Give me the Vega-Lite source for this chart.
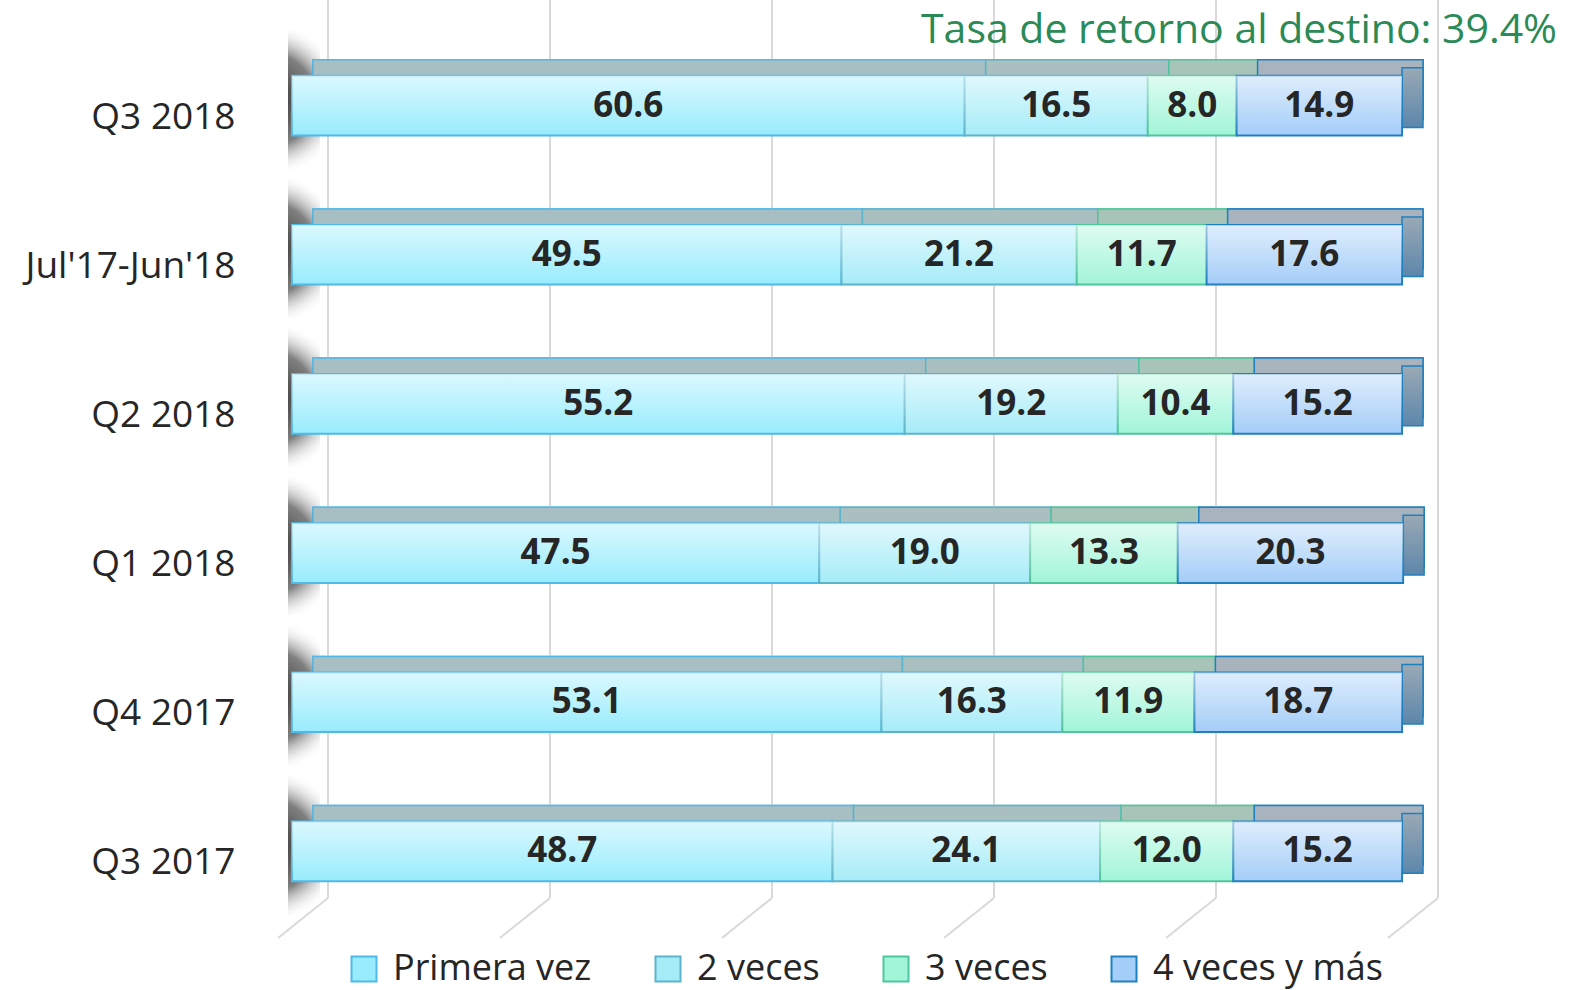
{
  "$schema": "https://vega.github.io/schema/vega-lite/v6.json",
  "width": 1110,
  "height": 895,
  "autosize": {"type": "none"},
  "padding": {"left": 292, "top": 31, "right": 177, "bottom": 64},
  "background": "white",
  "config": {"view": {"stroke": null}, "font": "Open Sans"},
  "title": {
    "text": "Tasa de retorno al destino: 39.4%",
    "anchor": "end",
    "color": "#2b8a57",
    "fontSize": 41,
    "font": "Open Sans",
    "fontWeight": "normal",
    "offset": 0,
    "dx": 118,
    "dy": 85,
    "baseline": "alphabetic"
  },
  "datasets": {
    "bars": [
      {"period": "Q3 2018", "serie": "Primera vez", "ord": 1, "value": 60.6},
      {"period": "Q3 2018", "serie": "2 veces", "ord": 2, "value": 16.5},
      {"period": "Q3 2018", "serie": "3 veces", "ord": 3, "value": 8.0},
      {"period": "Q3 2018", "serie": "4 veces y más", "ord": 4, "value": 14.9},
      {"period": "Jul'17-Jun'18", "serie": "Primera vez", "ord": 1, "value": 49.5},
      {"period": "Jul'17-Jun'18", "serie": "2 veces", "ord": 2, "value": 21.2},
      {"period": "Jul'17-Jun'18", "serie": "3 veces", "ord": 3, "value": 11.7},
      {"period": "Jul'17-Jun'18", "serie": "4 veces y más", "ord": 4, "value": 17.6},
      {"period": "Q2 2018", "serie": "Primera vez", "ord": 1, "value": 55.2},
      {"period": "Q2 2018", "serie": "2 veces", "ord": 2, "value": 19.2},
      {"period": "Q2 2018", "serie": "3 veces", "ord": 3, "value": 10.4},
      {"period": "Q2 2018", "serie": "4 veces y más", "ord": 4, "value": 15.2},
      {"period": "Q1 2018", "serie": "Primera vez", "ord": 1, "value": 47.5},
      {"period": "Q1 2018", "serie": "2 veces", "ord": 2, "value": 19.0},
      {"period": "Q1 2018", "serie": "3 veces", "ord": 3, "value": 13.3},
      {"period": "Q1 2018", "serie": "4 veces y más", "ord": 4, "value": 20.3},
      {"period": "Q4 2017", "serie": "Primera vez", "ord": 1, "value": 53.1},
      {"period": "Q4 2017", "serie": "2 veces", "ord": 2, "value": 16.3},
      {"period": "Q4 2017", "serie": "3 veces", "ord": 3, "value": 11.9},
      {"period": "Q4 2017", "serie": "4 veces y más", "ord": 4, "value": 18.7},
      {"period": "Q3 2017", "serie": "Primera vez", "ord": 1, "value": 48.7},
      {"period": "Q3 2017", "serie": "2 veces", "ord": 2, "value": 24.1},
      {"period": "Q3 2017", "serie": "3 veces", "ord": 3, "value": 12.0},
      {"period": "Q3 2017", "serie": "4 veces y más", "ord": 4, "value": 15.2}
    ],
    "grid": [{"v": 0}, {"v": 20}, {"v": 40}, {"v": 60}, {"v": 80}, {"v": 100}]
  },
  "layer": [
    {
      "data": {"name": "bars"},
      "transform": [{"stack": "value", "groupby": ["period"], "sort": [{"field": "ord"}], "as": ["x0", "x1"]}],
      "mark": {"type": "bar", "xOffset": 21, "x2Offset": 21, "yOffset": -16, "y2Offset": -16, "strokeWidth": 1.5},
      "encoding": {
        "y": {
          "field": "period", "type": "nominal",
          "sort": ["Q3 2018", "Jul'17-Jun'18", "Q2 2018", "Q1 2018", "Q4 2017", "Q3 2017"],
          "scale": {"paddingInner": 0.6, "paddingOuter": 0.3},
          "axis": {"title": null, "domain": false, "ticks": false, "grid": false, "labelFont": "Open Sans", "labelFontSize": 37, "labelColor": "#262626", "labelPadding": 57, "labelOffset": 12, "labelLimit": 400}
        },
        "x": {"field": "x0", "type": "quantitative", "scale": {"domain": [0, 100], "nice": false}, "axis": null},
        "x2": {"field": "x1"},
        "fill": {"condition": [{"test": "datum.ord == 1", "value": "#a7bfc2"}, {"test": "datum.ord == 2", "value": "#aabfc0"}, {"test": "datum.ord == 3", "value": "#a8c3b7"}], "value": "#a9b3be"},
        "stroke": {
          "field": "serie", "type": "nominal", "sort": ["Primera vez", "2 veces", "3 veces", "4 veces y más"],
          "scale": {"domain": ["Primera vez", "2 veces", "3 veces", "4 veces y más"], "range": ["#4fb9e9", "#5bb4ca", "#4fc59c", "#1f80c0"]},
          "legend": {"orient": "none", "legendX": 54, "legendY": 920, "padding": 0, "direction": "horizontal", "title": null, "labelFont": "Open Sans", "labelFontSize": 36, "labelColor": "#262626", "symbolType": "square", "symbolSize": 625, "symbolStrokeWidth": 2, "columnPadding": 58, "labelOffset": 11, "labelLimit": 400}
        }
      }
    },
    {
      "data": {"name": "bars"},
      "transform": [{"filter": "datum.ord == 1"}],
      "mark": {
        "type": "bar", "xOffset": -4, "x2Offset": 28, "height": 140, "yOffset": -6,
        "fill": {"gradient": "radial", "x1": 0.25, "y1": 0.5, "r1": 0, "x2": 0.25, "y2": 0.5, "r2": 0.55, "stops": [{"offset": 0, "color": "rgba(40,40,40,1)"}, {"offset": 0.6, "color": "rgba(85,85,85,0.75)"}, {"offset": 1, "color": "rgba(255,255,255,0)"}]}
      },
      "encoding": {
        "y": {"field": "period", "type": "nominal", "sort": ["Q3 2018", "Jul'17-Jun'18", "Q2 2018", "Q1 2018", "Q4 2017", "Q3 2017"]},
        "x": {"datum": 0, "type": "quantitative"},
        "x2": {"datum": 0}
      }
    },
    {
      "data": {"name": "grid"},
      "mark": {"type": "rule", "color": "#d9d9d9", "strokeWidth": 2, "xOffset": 36, "x2Offset": 36, "yOffset": -105.5, "y2Offset": 46.5},
      "encoding": {
        "x": {"field": "v", "type": "quantitative"},
        "x2": {"field": "v"},
        "y": {"datum": "Q3 2018", "type": "nominal"},
        "y2": {"datum": "Q3 2017"}
      }
    },
    {
      "data": {"name": "grid"},
      "mark": {"type": "rule", "color": "#d9d9d9", "strokeWidth": 2, "xOffset": 36, "x2Offset": -14, "yOffset": 46.5, "y2Offset": 86.5},
      "encoding": {
        "x": {"field": "v", "type": "quantitative"},
        "x2": {"field": "v"},
        "y": {"datum": "Q3 2017", "type": "nominal"},
        "y2": {"datum": "Q3 2017"}
      }
    },
    {
      "data": {"name": "bars"},
      "transform": [{"stack": "value", "groupby": ["period"], "sort": [{"field": "ord"}], "as": ["x0", "x1"]}],
      "mark": {"type": "bar", "xOffset": 21, "x2Offset": 21, "yOffset": -16, "y2Offset": -16, "strokeWidth": 1.5},
      "encoding": {
        "y": {"field": "period", "type": "nominal", "sort": ["Q3 2018", "Jul'17-Jun'18", "Q2 2018", "Q1 2018", "Q4 2017", "Q3 2017"]},
        "x": {"field": "x0", "type": "quantitative"},
        "x2": {"field": "x1"},
        "fill": {"condition": [{"test": "datum.ord == 1", "value": "#a7bfc2"}, {"test": "datum.ord == 2", "value": "#aabfc0"}, {"test": "datum.ord == 3", "value": "#a8c3b7"}], "value": "#a9b3be"},
        "stroke": {"field": "serie", "type": "nominal", "sort": ["Primera vez", "2 veces", "3 veces", "4 veces y más"]}
      }
    },
    {
      "data": {"name": "bars"},
      "transform": [
        {"stack": "value", "groupby": ["period"], "sort": [{"field": "ord"}], "as": ["x0", "x1"]},
        {"filter": "datum.ord == 4"}
      ],
      "mark": {
        "type": "bar", "x2Offset": 21, "yOffset": -8, "y2Offset": -8, "stroke": "#1f80c0", "strokeWidth": 1.5,
        "fill": {"gradient": "linear", "x1": 0, "y1": 0, "x2": 0, "y2": 1, "stops": [{"offset": 0, "color": "#9aa9b5"}, {"offset": 1, "color": "#5c86ab"}]}
      },
      "encoding": {
        "y": {"field": "period", "type": "nominal", "sort": ["Q3 2018", "Jul'17-Jun'18", "Q2 2018", "Q1 2018", "Q4 2017", "Q3 2017"]},
        "x": {"field": "x1", "type": "quantitative"},
        "x2": {"field": "x1"}
      }
    },
    {
      "data": {"name": "bars"},
      "transform": [{"stack": "value", "groupby": ["period"], "sort": [{"field": "ord"}], "as": ["x0", "x1"]}],
      "mark": {"type": "bar", "strokeWidth": 2},
      "encoding": {
        "y": {"field": "period", "type": "nominal", "sort": ["Q3 2018", "Jul'17-Jun'18", "Q2 2018", "Q1 2018", "Q4 2017", "Q3 2017"]},
        "x": {"field": "x0", "type": "quantitative"},
        "x2": {"field": "x1"},
        "fill": {
          "field": "serie", "type": "nominal", "sort": ["Primera vez", "2 veces", "3 veces", "4 veces y más"],
          "scale": {"domain": ["Primera vez", "2 veces", "3 veces", "4 veces y más"], "range": ["#98ecfd", "#a6ecf8", "#a2f5d9", "#a4cdf8"]},
          "legend": {"orient": "none", "legendX": 54, "legendY": 920, "padding": 0, "direction": "horizontal", "title": null, "labelFont": "Open Sans", "labelFontSize": 36, "labelColor": "#262626", "symbolType": "square", "symbolSize": 625, "symbolStrokeWidth": 2, "columnPadding": 58, "labelOffset": 11, "labelLimit": 400}
        },
        "stroke": {"field": "serie", "type": "nominal", "sort": ["Primera vez", "2 veces", "3 veces", "4 veces y más"]}
      }
    },
    {
      "data": {"name": "bars"},
      "transform": [{"stack": "value", "groupby": ["period"], "sort": [{"field": "ord"}], "as": ["x0", "x1"]}],
      "mark": {
        "type": "bar",
        "fill": {"gradient": "linear", "x1": 0, "y1": 0, "x2": 0, "y2": 1, "stops": [{"offset": 0, "color": "rgba(255,255,255,0.65)"}, {"offset": 1, "color": "rgba(255,255,255,0)"}]}
      },
      "encoding": {
        "y": {"field": "period", "type": "nominal", "sort": ["Q3 2018", "Jul'17-Jun'18", "Q2 2018", "Q1 2018", "Q4 2017", "Q3 2017"]},
        "x": {"field": "x0", "type": "quantitative"},
        "x2": {"field": "x1"}
      }
    },
    {
      "data": {"name": "bars"},
      "transform": [
        {"stack": "value", "groupby": ["period"], "sort": [{"field": "ord"}], "as": ["x0", "x1"]},
        {"calculate": "(datum.x0 + datum.x1) / 2", "as": "xm"}
      ],
      "mark": {"type": "text", "font": "Open Sans", "fontSize": 35, "fontWeight": "bold", "color": "#262626", "baseline": "middle", "align": "center"},
      "encoding": {
        "y": {"field": "period", "type": "nominal", "sort": ["Q3 2018", "Jul'17-Jun'18", "Q2 2018", "Q1 2018", "Q4 2017", "Q3 2017"]},
        "x": {"field": "xm", "type": "quantitative"},
        "text": {"field": "value", "type": "quantitative", "format": ".1f"}
      }
    }
  ]
}
